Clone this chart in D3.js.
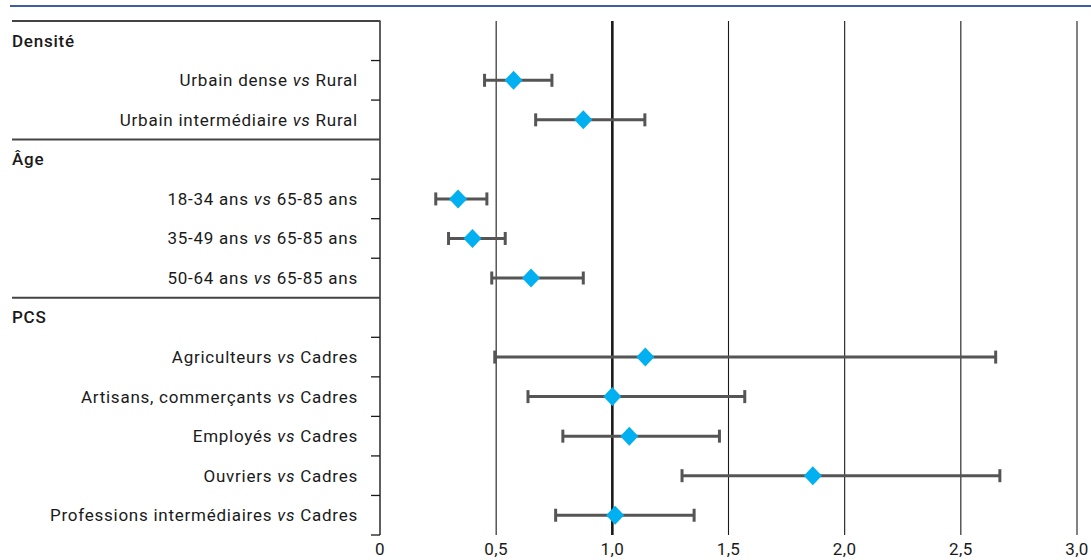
<!DOCTYPE html>
<html>
<head>
<meta charset="utf-8">
<script src="https://cdn.jsdelivr.net/npm/d3@7"></script>
<style>
  html, body { margin: 0; padding: 0; background: #fff; }
  svg { display: block; font-family: Roboto, "Noto Sans", sans-serif; }
</style>
</head>
<body>
<svg id="chart" width="1091" height="560"></svg>
<script>
// Odds ratios with 95% confidence intervals, grouped by variable
const groupNames = ["Densité", "Âge", "PCS"];
const groupSizes = [2, 3, 5];
const comparisons = [
  "Urbain dense", "Urbain intermédiaire",
  "18-34 ans", "35-49 ans", "50-64 ans",
  "Agriculteurs", "Artisans, commerçants", "Employés", "Ouvriers", "Professions intermédiaires"
];
const references = [
  "Rural", "Rural",
  "65-85 ans", "65-85 ans", "65-85 ans",
  "Cadres", "Cadres", "Cadres", "Cadres", "Cadres"
];
const estimates = [0.575, 0.875, 0.336, 0.398, 0.65, 1.142, 1.0, 1.073, 1.863, 1.012];
const lowerCI   = [0.45, 0.67, 0.24, 0.295, 0.481, 0.494, 0.637, 0.787, 1.30, 0.756];
const upperCI   = [0.74, 1.14, 0.46, 0.539, 0.875, 2.65, 1.57, 1.461, 2.668, 1.352];
const xTickValues = [0, 0.5, 1.0, 1.5, 2.0, 2.5, 3.0];
const xTickLabels = ["0", "0,5", "1,0", "1,5", "2,0", "2,5", "3,0"];

// Build the row list: a header row per group followed by its comparisons
const rows = [];
let k = 0;
groupNames.forEach((g, gi) => {
  rows.push({ type: "header", label: g, group: gi });
  for (let j = 0; j < groupSizes[gi]; j++, k++) {
    rows.push({ type: "item", i: k, group: gi });
  }
});

const svg = d3.select("#chart");
const W = 1091;
const panelLeft = 12, axisX = 380, plotTop = 21, plotBottom = 535;

const x = d3.scaleLinear().domain([0, 3]).range([axisX, 1077]);
const y = d3.scaleBand().domain(d3.range(rows.length)).range([plotTop, plotBottom]);

const ink = "#1a1a1a";

// Top rule
svg.append("line")
  .attr("x1", 10).attr("x2", W).attr("y1", 6).attr("y2", 6)
  .attr("stroke", "#3b5ea6").attr("stroke-width", 2.2);

// Vertical gridlines
svg.append("g").selectAll("line")
  .data(xTickValues.filter(v => v > 0))
  .join("line")
  .attr("x1", d => x(d)).attr("x2", d => x(d))
  .attr("y1", plotTop).attr("y2", plotBottom)
  .attr("stroke", ink)
  .attr("stroke-width", d => d === 1 ? 2.6 : 1.1);

// Y axis line
svg.append("line")
  .attr("x1", axisX).attr("x2", axisX).attr("y1", plotTop - 0.5).attr("y2", plotBottom)
  .attr("stroke", ink).attr("stroke-width", 1.4);

// Group separators (full width across the label panel) and row ticks
const boundaries = d3.range(rows.length + 1).map(r => ({
  r,
  y: r < rows.length ? y(r) : plotBottom,
  full: r === 0 || (r < rows.length && rows[r].type === "header")
}));
svg.append("g").selectAll("line")
  .data(boundaries)
  .join("line")
  .attr("x1", d => d.full ? panelLeft : axisX - 9)
  .attr("x2", axisX)
  .attr("y1", d => d.y).attr("y2", d => d.y)
  .attr("stroke", d => d.full ? "#444" : ink)
  .attr("stroke-width", d => d.full ? 2 : 1.3);

// Row labels
const labels = svg.append("g").selectAll("text")
  .data(rows)
  .join("text")
  .attr("y", (d, r) => y(r) + y.bandwidth() / 2)
  .attr("dy", "0.35em")
  .attr("fill", "#1a1a1a")
  .attr("font-size", 17)
  .attr("letter-spacing", 0.75);

labels.filter(d => d.type === "header")
  .attr("x", panelLeft)
  .attr("font-weight", 500)
  .text(d => d.label);

labels.filter(d => d.type === "item")
  .attr("x", 358)
  .attr("text-anchor", "end")
  .each(function(d) {
    const t = d3.select(this);
    t.append("tspan").text(comparisons[d.i] + " ");
    t.append("tspan").attr("font-style", "italic").text("vs");
    t.append("tspan").text(" " + references[d.i]);
  });

// X axis tick labels
svg.append("g").selectAll("text")
  .data(xTickValues)
  .join("text")
  .attr("x", d => x(d))
  .attr("y", 549)
  .attr("dy", "0.35em")
  .attr("text-anchor", "middle")
  .attr("font-size", 17)
  .attr("letter-spacing", 0.4)
  .attr("fill", "#1a1a1a")
  .text((d, i) => xTickLabels[i]);

// Confidence intervals and point estimates
const items = rows.map((d, r) => ({ ...d, r })).filter(d => d.type === "item");
const cy = d => y(d.r) + y.bandwidth() / 2;
const ci = svg.append("g").attr("stroke", "#555").attr("stroke-width", 3);
ci.selectAll("line.bar")
  .data(items).join("line").attr("class", "bar")
  .attr("x1", d => x(lowerCI[d.i])).attr("x2", d => x(upperCI[d.i]))
  .attr("y1", cy).attr("y2", cy);
ci.selectAll("line.lo")
  .data(items).join("line").attr("class", "lo")
  .attr("x1", d => x(lowerCI[d.i])).attr("x2", d => x(lowerCI[d.i]))
  .attr("y1", d => cy(d) - 6.5).attr("y2", d => cy(d) + 6.5);
ci.selectAll("line.hi")
  .data(items).join("line").attr("class", "hi")
  .attr("x1", d => x(upperCI[d.i])).attr("x2", d => x(upperCI[d.i]))
  .attr("y1", d => cy(d) - 6.5).attr("y2", d => cy(d) + 6.5);

svg.append("g").selectAll("path")
  .data(items).join("path")
  .attr("d", "M0,-9.5L9,0L0,9.5L-9,0Z")
  .attr("transform", d => `translate(${x(estimates[d.i])},${cy(d)})`)
  .attr("fill", "#00b0f0");
</script>
</body>
</html>
